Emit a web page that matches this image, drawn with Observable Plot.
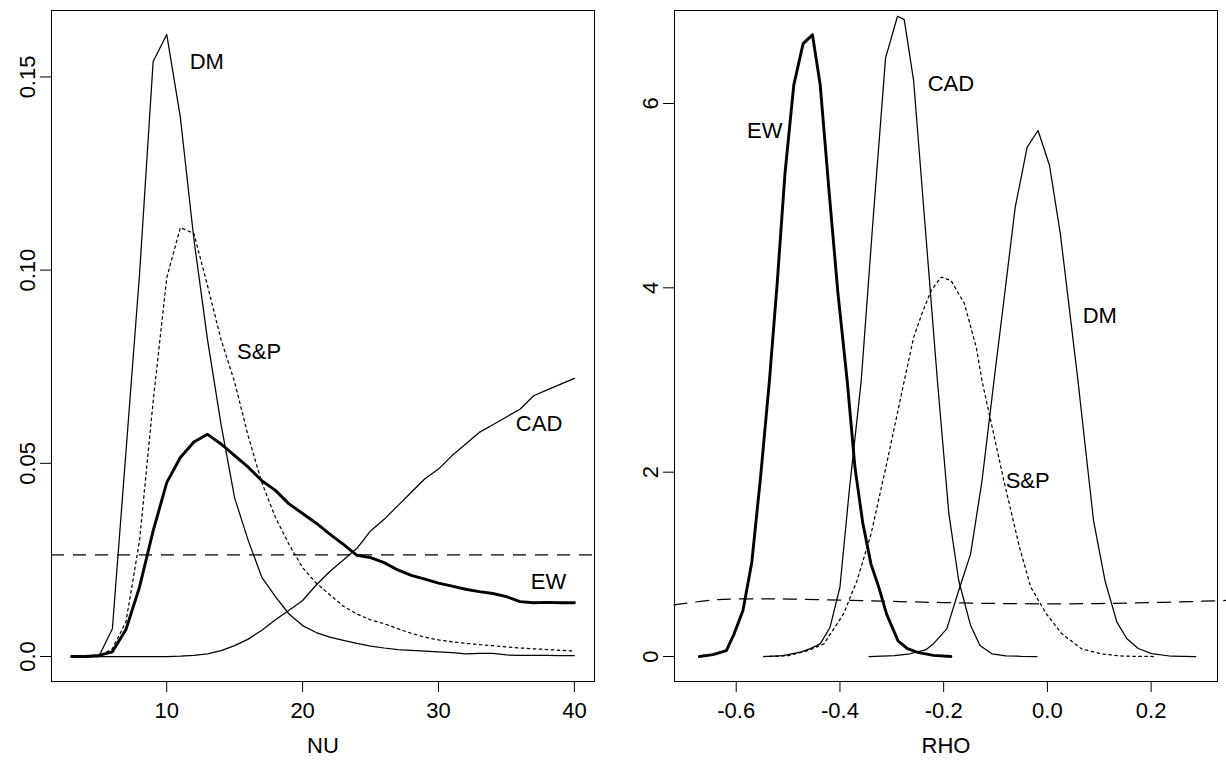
<!DOCTYPE html>
<html>
<head>
<meta charset="utf-8">
<script src="https://cdn.jsdelivr.net/npm/d3@7"></script>
<script src="https://cdn.jsdelivr.net/npm/@observablehq/plot@0.6"></script>
<style>
  html, body { margin: 0; padding: 0; background: white; }
  #wrap { position: relative; width: 1226px; height: 763px; background: white; }
  #p1 { position: absolute; left: 0; top: 0; }
  #p2 { position: absolute; left: 613px; top: 0; }
  svg { font-family: "Liberation Sans", Arial, Helvetica, sans-serif; }
</style>
</head>
<body>
<div id="wrap"><div id="p1"></div><div id="p2"></div></div>
<script>
// ---------- Left panel: NU ----------
const nu = [3,4,5,6,7,8,9,10,11,12,13,14,15,16,17,18,19,20,21,22,23,24,25,26,27,28,29,30,31,32,33,34,35,36,37,38,39,40];
const dmNu  = [0,0,0,0.0072,0.053,0.099,0.154,0.161,0.1396,0.108,0.082,0.060,0.041,0.030,0.0205,0.0155,0.011,0.008,0.0062,0.005,0.0042,0.0034,0.0027,0.0022,0.0018,0.0016,0.0014,0.0012,0.0010,0.0007,0.0008,0.0008,0.0004,0.0003,0.0003,0.0003,0.0002,0.0002];
const spNu  = [0,0,0,0.002,0.009,0.030,0.066,0.098,0.111,0.1095,0.096,0.082,0.071,0.057,0.045,0.036,0.029,0.023,0.019,0.016,0.013,0.011,0.0095,0.0085,0.0072,0.0060,0.0050,0.0043,0.0038,0.0034,0.0031,0.0028,0.0025,0.0022,0.0020,0.0018,0.0016,0.0014];
const cadNu = [0,0,0,0,0,0,0,0,0.0001,0.0003,0.0007,0.0015,0.0028,0.0045,0.0068,0.0095,0.012,0.0145,0.0185,0.022,0.025,0.028,0.0325,0.0355,0.039,0.0425,0.046,0.0485,0.052,0.055,0.058,0.060,0.062,0.064,0.0675,0.069,0.0705,0.072];
const ewNu  = [0,0,0.0003,0.0012,0.007,0.018,0.0325,0.045,0.0515,0.0555,0.0575,0.055,0.052,0.049,0.0455,0.043,0.0395,0.037,0.0345,0.0317,0.029,0.0262,0.0256,0.0243,0.0224,0.021,0.020,0.019,0.0182,0.0174,0.0168,0.0163,0.0155,0.0142,0.0139,0.014,0.0139,0.0139];
const priorNu = 1 / 38;
const nuTicks = [10, 20, 30, 40];
const nuTickLabels = ["10", "20", "30", "40"];
const densNuTicks = [0, 0.05, 0.10, 0.15];
const densNuTickLabels = ["0.0", "0.05", "0.10", "0.15"];
const nuLabelText = ["DM", "S&P", "CAD", "EW"];
const nuLabelX = [12.95, 16.8, 37.4, 38.1];
const nuLabelY = [0.1538, 0.0788, 0.0602, 0.0192];

// ---------- Right panel: RHO ----------
const ewRhoX = [-0.671,-0.645,-0.619,-0.604,-0.587,-0.570,-0.553,-0.536,-0.521,-0.506,-0.489,-0.471,-0.453,-0.438,-0.421,-0.404,-0.386,-0.371,-0.356,-0.340,-0.325,-0.310,-0.288,-0.270,-0.250,-0.220,-0.186];
const ewRhoY = [0,0.02,0.065,0.246,0.50,1.02,1.95,2.99,4.05,5.24,6.2,6.65,6.745,6.2,5.05,3.95,2.99,2.05,1.45,1.0,0.75,0.46,0.17,0.085,0.045,0.012,0];
const cadRhoX = [-0.547,-0.51,-0.476,-0.457,-0.438,-0.419,-0.40,-0.382,-0.359,-0.336,-0.312,-0.289,-0.276,-0.258,-0.235,-0.212,-0.19,-0.171,-0.148,-0.130,-0.107,-0.08,-0.05,-0.02];
const cadRhoY = [0,0.01,0.047,0.085,0.137,0.318,0.752,1.80,2.99,4.75,6.495,6.947,6.91,6.25,4.62,2.99,1.55,0.825,0.336,0.119,0.03,0.008,0.002,0];
const spRhoX = [-0.547,-0.52,-0.498,-0.461,-0.431,-0.393,-0.367,-0.340,-0.310,-0.276,-0.258,-0.240,-0.224,-0.205,-0.186,-0.160,-0.137,-0.126,-0.105,-0.084,-0.054,-0.032,-0.002,0.028,0.066,0.104,0.141,0.17,0.205];
const spRhoY = [0,0.003,0.011,0.065,0.137,0.463,0.825,1.33,2.09,2.99,3.46,3.75,3.97,4.116,4.08,3.83,3.35,2.99,2.45,1.91,1.19,0.752,0.463,0.246,0.083,0.029,0.006,0.002,0];
const dmRhoX = [-0.344,-0.295,-0.265,-0.235,-0.220,-0.194,-0.171,-0.148,-0.126,-0.103,-0.084,-0.062,-0.039,-0.018,0.004,0.025,0.042,0.059,0.074,0.089,0.111,0.134,0.153,0.175,0.201,0.239,0.286];
const dmRhoY = [0,0.01,0.03,0.072,0.137,0.3,0.716,1.114,1.909,2.99,3.86,4.875,5.527,5.707,5.33,4.585,3.79,2.99,2.23,1.475,0.825,0.373,0.195,0.087,0.032,0.003,0];
const priorRhoX = [-0.72,-0.68,-0.64,-0.60,-0.55,-0.50,-0.40,-0.30,-0.20,-0.10,0.0,0.10,0.20,0.30,0.36];
const priorRhoY = [0.56,0.59,0.615,0.625,0.626,0.624,0.612,0.598,0.585,0.576,0.572,0.575,0.585,0.600,0.612];
const rhoTicks = [-0.6, -0.4, -0.2, 0, 0.2];
const rhoTickLabels = ["-0.6", "-0.4", "-0.2", "0.0", "0.2"];
const densRhoTicks = [0, 2, 4, 6];
const densRhoTickLabels = ["0", "2", "4", "6"];
const rhoLabelText = ["EW", "CAD", "DM", "S&P"];
const rhoLabelX = [-0.545, -0.186, 0.101, -0.038];
const rhoLabelY = [5.707, 6.21, 3.70, 1.91];

// ---------- helpers ----------
const pts = (xs, ys) => xs.map((x, i) => ({x, y: ys[i]}));
const lab = (t, xs, ys) => t.map((s, i) => ({text: s, x: xs[i], y: ys[i]}));
const fmt = (ticks, labels) => (d) => labels[ticks.findIndex(t => Math.abs(t - d) < 1e-9)];
const FS = 22;
const THIN = 1.25, THICK = 2.9;
const style = {fontFamily: '"Liberation Sans", Arial, Helvetica, sans-serif', fontSize: FS + "px", background: "white", color: "black", overflow: "hidden"};

function axes(xt, xl, yt, yl, title) {
  return [
    Plot.axisX({ticks: xt, tickFormat: fmt(xt, xl), tickSize: 11, tickPadding: 10, label: null, fontSize: FS, strokeWidth: 1}),
    Plot.axisY({ticks: yt, tickFormat: fmt(yt, yl), tickSize: 11, tickPadding: 6, tickRotate: -90, textAnchor: "middle", lineAnchor: "bottom", label: null, fontSize: FS, strokeWidth: 1}),
    Plot.text([title], {frameAnchor: "bottom", dy: 64, lineAnchor: "middle", text: d => d, fontSize: FS, fill: "black"}),
    Plot.frame({stroke: "black", strokeWidth: 1})
  ];
}

const left = Plot.plot({
  width: 613, height: 763,
  marginTop: 10, marginBottom: 82, marginLeft: 51, marginRight: 19,
  style,
  x: {domain: [1.52, 41.48]},
  y: {domain: [-0.00647, 0.1672]},
  marks: [
    Plot.ruleY([priorNu], {stroke: "black", strokeWidth: THIN, strokeDasharray: "13,9"}),
    Plot.line(pts(nu, dmNu), {x: "x", y: "y", stroke: "black", strokeWidth: THIN}),
    Plot.line(pts(nu, spNu), {x: "x", y: "y", stroke: "black", strokeWidth: THIN, strokeDasharray: "2.5,3.5"}),
    Plot.line(pts(nu, cadNu), {x: "x", y: "y", stroke: "black", strokeWidth: THIN}),
    Plot.line(pts(nu, ewNu), {x: "x", y: "y", stroke: "black", strokeWidth: THICK}),
    Plot.text(lab(nuLabelText, nuLabelX, nuLabelY), {x: "x", y: "y", text: "text", fontSize: FS, fill: "black", lineAnchor: "middle"}),
    ...axes(nuTicks, nuTickLabels, densNuTicks, densNuTickLabels, "NU")
  ]
});

const right = Plot.plot({
  width: 613, height: 763,
  marginTop: 10, marginBottom: 82, marginLeft: 61, marginRight: 9,
  style,
  x: {domain: [-0.719, 0.328]},
  y: {domain: [-0.271, 7.009]},
  marks: [
    Plot.line(pts(priorRhoX, priorRhoY), {x: "x", y: "y", stroke: "black", strokeWidth: THIN, strokeDasharray: "13,9", curve: "natural"}),
    Plot.line(pts(ewRhoX, ewRhoY), {x: "x", y: "y", stroke: "black", strokeWidth: THICK}),
    Plot.line(pts(cadRhoX, cadRhoY), {x: "x", y: "y", stroke: "black", strokeWidth: THIN}),
    Plot.line(pts(spRhoX, spRhoY), {x: "x", y: "y", stroke: "black", strokeWidth: THIN, strokeDasharray: "2.5,3.5"}),
    Plot.line(pts(dmRhoX, dmRhoY), {x: "x", y: "y", stroke: "black", strokeWidth: THIN}),
    Plot.text(lab(rhoLabelText, rhoLabelX, rhoLabelY), {x: "x", y: "y", text: "text", fontSize: FS, fill: "black", lineAnchor: "middle"}),
    ...axes(rhoTicks, rhoTickLabels, densRhoTicks, densRhoTickLabels, "RHO")
  ]
});

document.getElementById("p1").appendChild(left);
document.getElementById("p2").appendChild(right);
</script>
</body>
</html>
